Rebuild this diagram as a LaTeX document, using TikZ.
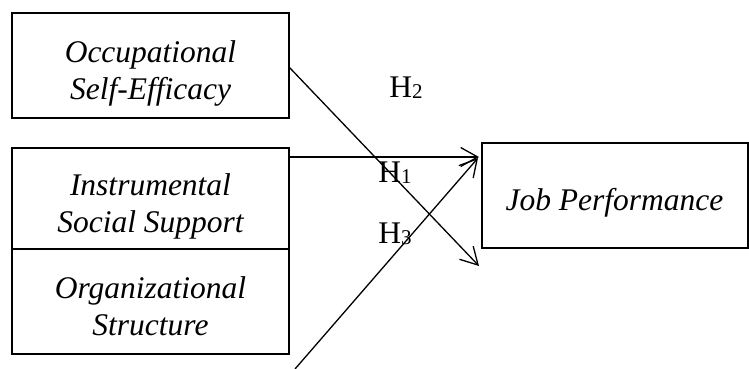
\documentclass[tikz,border=0pt]{standalone}
\usepackage{fontspec}
\setmainfont{Liberation Serif}
\usetikzlibrary{arrows.meta}
\begin{document}
\begin{tikzpicture}[x=1pt,y=-1pt,
  box/.style={draw,line width=2pt,inner sep=0pt,align=center,
    font=\fontsize{31.5}{37}\selectfont\itshape},
  conn/.style={line width=1.3pt,-{Straight Barb[length=17pt,width=19pt,line width=1.3pt]}},
  hlab/.style={font=\fontsize{31.5}{37}\selectfont,inner sep=0pt}]
\useasboundingbox (0,0) rectangle (749,369);
\node[box,minimum width=277pt,minimum height=105pt] (ose) at (150.5,65.5) {\rule{0pt}{38pt}Occupational\\Self-Efficacy};
\node[box,minimum width=277pt,minimum height=101pt] (iss) at (150.5,198.5) {\rule{0pt}{38pt}Instrumental\\Social Support};
\node[box,minimum width=277pt,minimum height=105pt] (os) at (150.5,301.5) {\rule{0pt}{32pt}Organizational\\Structure};
\node[box,minimum width=266pt,minimum height=105pt] (jp) at (614.5,195.5) {\rule{0pt}{36pt}Job Performance};
\coordinate (s2) at (289,67);
\coordinate (e2) at (479,266);
\coordinate (s1) at (289,157);
\coordinate (e1) at (479,157);
\coordinate (s3) at (295,369);
\coordinate (e3) at (478,158);
\draw[conn] (s1) -- (e1);
\draw[conn] (s2) -- (e2);
\draw[conn] (s3) -- (e3);
\node[hlab] (h2) at (406,88) {H{\fontsize{21}{21}\selectfont\raisebox{-1pt}{2}}};
\node[hlab] (h1) at (395,173) {H{\fontsize{21}{21}\selectfont\raisebox{-1pt}{1}}};
\node[hlab] (h3) at (395,234) {H{\fontsize{21}{21}\selectfont\raisebox{-1pt}{3}}};
\end{tikzpicture}
\end{document}
